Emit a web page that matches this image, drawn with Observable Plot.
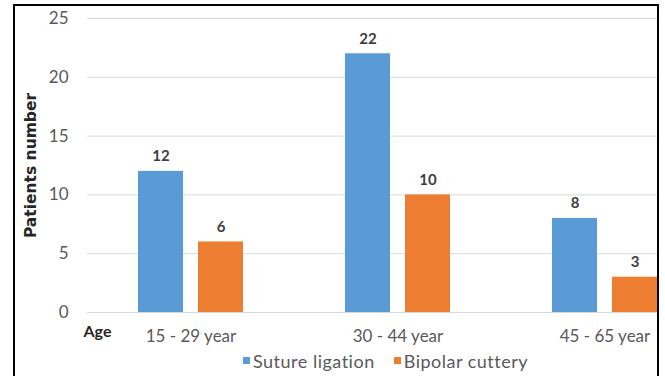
<!DOCTYPE html>
<html><head><meta charset="utf-8">
<script src="https://cdn.jsdelivr.net/npm/d3@7"></script>
<script src="https://cdn.jsdelivr.net/npm/@observablehq/plot@0.6"></script>
<style>
html,body{margin:0;padding:0;background:#fff;overflow:hidden;width:665px;height:376px;}
#chart{position:absolute;left:0;top:0;}
#chart svg{max-width:none !important;}
#frame{position:absolute;left:13px;top:4px;width:646px;height:420px;border:2px solid #000;box-sizing:border-box;pointer-events:none;}
#mask{position:absolute;left:659px;top:0;width:10px;height:376px;background:#fff;}
#legend{position:absolute;left:243px;top:344px;}
#legend [class$="-swatch"]{margin-right:19px !important;letter-spacing:0.5px;}
#legend [class$="-swatch"] > svg{margin-right:3px !important;}
</style></head><body>
<div id="chart"></div><div id="mask"></div><div id="frame"></div><div id="legend"></div>
<script>
const ageGroups = ["15 - 29 year", "30 - 44 year", "45 - 65 year"];
const series = ["Suture ligation", "Bipolar cuttery"];
const sutureLigation = [12, 22, 8];
const bipolarCuttery = [6, 10, 3];
const colors = ["#5b9bd5", "#ed7d31"];
const yTicks = [0, 5, 10, 15, 20, 25];
const xTitle = "Age";
const yTitle = "Patients number";

const data = ageGroups.flatMap((g, i) => [
  {group: g, series: series[0], value: sutureLigation[i]},
  {group: g, series: series[1], value: bipolarCuttery[i]}
]);

const font = "Lato, 'Open Sans', sans-serif";

const plot = Plot.plot({
  width: 720, height: 376,
  marginTop: 18, marginBottom: 64, marginLeft: 87, marginRight: 12,
  style: {fontFamily: font, background: "transparent"},
  fx: {domain: ageGroups, padding: 0, label: null},
  x: {domain: series, paddingInner: 0.25, paddingOuter: 0.85, axis: null},
  y: {domain: [0, 25], label: null},
  color: {domain: series, range: colors},
  marks: [
    Plot.gridY(yTicks, {stroke: "#d9d9d9", strokeOpacity: 1}),
    Plot.axisY(yTicks, {tickSize: 0, tickPadding: 19, fontSize: 17, fill: "#595959", label: null}),
    Plot.axisFx({anchor: "bottom", tickSize: 0, tickPadding: 17, fontSize: 17, fill: "#595959", label: null}),
    Plot.barY(data, {fx: "group", x: "series", y: "value", fill: "series"}),
    Plot.text(data, {fx: "group", x: "series", y: "value", text: d => String(d.value), dy: -15, fontSize: 15, fontWeight: "bold", fill: "#404040"}),
    Plot.text([xTitle], {facet: "super", frameAnchor: "bottom-left", text: d => d, dx: -4, dy: 24, textAnchor: "start", fontWeight: "bold", fontSize: 16, fill: "#262626"}),
    Plot.text([yTitle], {facet: "super", frameAnchor: "left", text: d => d, rotate: -90, textAnchor: "middle", dx: -56, fontFamily: "'DejaVu Sans', sans-serif", fontWeight: "bold", fontSize: 15.5, fill: "#262626"})
  ]
});
document.getElementById("chart").appendChild(plot);

const legend = Plot.legend({
  color: {domain: series, range: colors},
  swatchSize: 7,
  style: {fontFamily: font, fontSize: "18px", color: "#595959"}
});
document.getElementById("legend").appendChild(legend);
</script>
</body></html>
